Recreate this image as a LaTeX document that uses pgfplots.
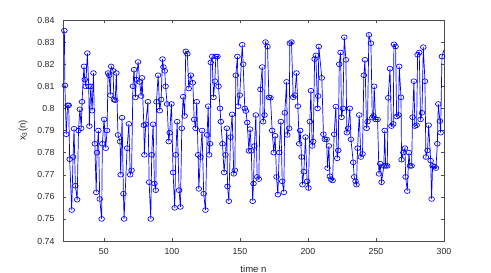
\documentclass[border=0pt]{standalone}
\usepackage{fontspec}
\setmainfont{Liberation Sans}
\usepackage{pgfplots}
\pgfplotsset{compat=1.18}
\begin{document}
\begin{tikzpicture}
\begin{axis}[
  scale only axis, width=381bp, height=221bp,
  xmin=20, xmax=300, ymin=0.74, ymax=0.84,
  xtick={50,100,...,300},
  ytick={0.74,0.75,...,0.845},
  /pgf/number format/assume math mode=true,
  tick align=inside, major tick length=3bp,
  axis line style={black!70, line width=0.5pt},
  tick style={black!70, line width=0.4pt},
  ticklabel style={font=\fontsize{8.8}{10}\selectfont, text=black!85},
  xticklabel style={yshift=-4bp},
  yticklabel style={xshift=-5bp, /pgf/number format/.cd, fixed, precision=2},
  label style={font=\fontsize{9.6}{11}\selectfont, text=black!85},
  xlabel={time n}, ylabel={x\textsubscript{3}(n)},
  xlabel style={yshift=-4bp},
  ylabel style={yshift=3bp},
  clip=true,
]
\addplot[blue, line width=0.7pt, mark=o, mark size=2.4pt, mark options={xscale=1.2, line width=0.65pt, solid}] table[x expr=\thisrowno{0}-0.6, y index=1] {
n v
21.6 0.8352
22 0.8104
23 0.7883
24 0.8014
24.8 0.8014
25.5 0.777
27 0.754
28 0.778
28.7 0.7908
29.7 0.765
31 0.7587
32 0.790
33 0.7996
34 0.791
34.6 0.803
36 0.819
36.6 0.813
37.3 0.810
38.5 0.825
39.5 0.810
40 0.792
41 0.810
42 0.799
43 0.816
44 0.784
45 0.762
45.6 0.780
46.6 0.790
47.6 0.759
49 0.750
49.5 0.784
50.8 0.795
52 0.782
53 0.790
53.7 0.816
54.5 0.815
55.4 0.806
56 0.819
57.4 0.817
58 0.804
59 0.8037
59.8 0.816
61 0.788
62.5 0.785
63 0.770
64 0.7958
65 0.7614
65.5 0.750
67.7 0.782
69 0.793
70 0.770
71 0.772
72 0.810
72.8 0.8175
73.8 0.805
74.5 0.813
75.8 0.821
77 0.812
78 0.8056
78.7 0.8138
80 0.7924
80.4 0.779
81.4 0.7928
83 0.803
83.9 0.7666
85.1 0.750
85.8 0.779
86.8 0.7928
87.8 0.766
88.8 0.763
89.3 0.803
90.5 0.815
91.7 0.799
92.7 0.804
93.7 0.8223
94.4 0.8187
95.4 0.817
96 0.810
97.1 0.802
98.3 0.785
99 0.789
100.3 0.802
101.5 0.771
102.7 0.755
103.5 0.779
104.5 0.794
105.9 0.763
106.9 0.7554
107.9 0.791
108.9 0.8053
110 0.7966
110.8 0.8258
112 0.8247
113 0.809
114.5 0.815
116 0.8116
117 0.795
118 0.791
118.9 0.803
119.9 0.779
120.4 0.7636
121.6 0.778
122.8 0.790
124 0.7614
125.3 0.754
126.5 0.788
127.3 0.801
128 0.779
128.7 0.784
129.2 0.8208
130.2 0.8235
131.2 0.805
132.2 0.8123
132.9 0.8235
134.1 0.8235
134.9 0.810
136 0.800
136.6 0.794
137.8 0.784
139 0.771
140 0.779
141 0.791
141.5 0.7647
142.5 0.758
143.7 0.787
144.9 0.7973
146.1 0.7704
146.9 0.772
147.6 0.815
148.8 0.8235
149.3 0.801
150.5 0.806
152.3 0.8288
153 0.820
154.2 0.800
155 0.7988
156 0.7936
157.2 0.7808
158.1 0.7906
159 0.7808
160 0.758
160.6 0.766
161.3 0.783
162.3 0.797
163.3 0.769
164.5 0.768
165.7 0.8086
167 0.8187
167.7 0.794
168.7 0.797
169.4 0.830
170.9 0.828
171.9 0.805
173.1 0.8048
174.3 0.790
175.5 0.780
176.5 0.7876
177.5 0.769
178.5 0.761
179.5 0.780
180.7 0.794
181.7 0.767
182.9 0.762
183.6 0.798
184.9 0.812
185.4 0.788
186.8 0.791
187.3 0.8295
188.5 0.830
189.8 0.805
191 0.806
192.2 0.816
193.2 0.801
194.2 0.784
194.9 0.790
195.9 0.778
196.6 0.7655
197.6 0.7714
198.8 0.787
200 0.767
201 0.764
202 0.794
202.8 0.808
203.7 0.783
204.5 0.785
205.5 0.8223
206.4 0.824
207.7 0.800
208.1 0.8056
208.6 0.828
210.8 0.8138
212 0.7883
213 0.786
214.3 0.786
215 0.773
216 0.783
216.7 0.7693
217.5 0.768
218.7 0.7674
219.9 0.7883
221.1 0.8008
222.1 0.7774
222.9 0.781
223.6 0.820
224.6 0.8253
225.3 0.796
226.3 0.800
227.3 0.8322
228.5 0.822
229.2 0.789
230.2 0.791
231.4 0.800
232.2 0.786
233.9 0.7756
234.6 0.769
235.6 0.767
236.3 0.7655
237.1 0.782
238.3 0.797
239.5 0.778
240.7 0.7794
241.7 0.815
242.5 0.822
243.7 0.791
244.4 0.794
245.4 0.8333
246.9 0.8295
247.9 0.7958
248.8 0.7966
249.3 0.810
250.3 0.795
251.8 0.795
252.8 0.7704
253.7 0.775
254.7 0.7666
256.4 0.774
257 0.790
257.7 0.774
258.9 0.774
259.6 0.8048
260.9 0.818
262 0.792
263.3 0.793
263.8 0.829
265 0.828
265.8 0.7963
267.2 0.797
267.7 0.819
269 0.805
269.4 0.7768
270.7 0.780
271.9 0.782
272.4 0.769
273.6 0.7626
274.8 0.780
275.6 0.774
276.8 0.774
277.5 0.796
278.5 0.8123
279.2 0.792
280.5 0.7924
281.2 0.8243
282.4 0.8253
283.4 0.795
284.4 0.798
285.4 0.8277
286.6 0.8123
287.3 0.778
288.5 0.781
289.3 0.7924
290.8 0.7764
291.5 0.759
292.2 0.774
293.5 0.7737
294.7 0.773
295.7 0.784
296.4 0.802
297.6 0.7943
298.1 0.789
299.1 0.8235
300.6 0.8265
};
\end{axis}
\pgfresetboundingbox
\path ([xshift=-63bp,yshift=-32bp]current axis.south west) rectangle ([xshift=47bp,yshift=20bp]current axis.north east);
\end{tikzpicture}
\end{document}
